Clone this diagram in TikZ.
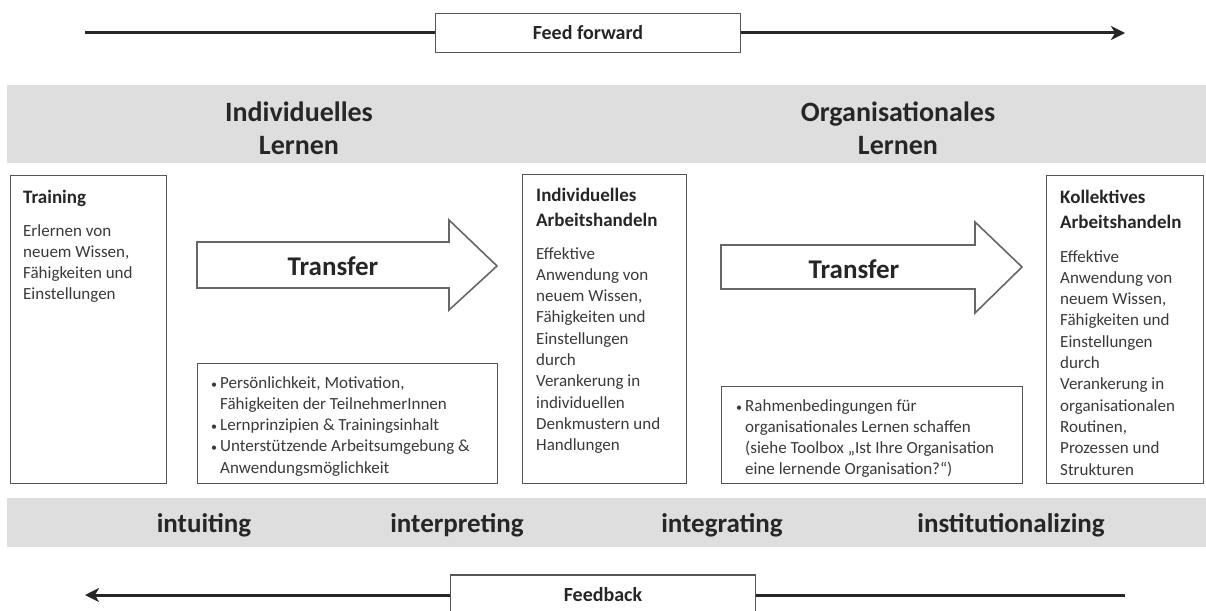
\documentclass[tikz,border=0pt]{standalone}
\usepackage{fontspec}
\setmainfont{Carlito}
\usetikzlibrary{arrows.meta}

\definecolor{bandgray}{HTML}{DEDEDE}
\definecolor{boxline}{HTML}{555555}
\definecolor{bodytext}{HTML}{3A3A3A}

\newcommand{\blt}{\makebox[9pt][l]{\fontsize{12}{12}\selectfont•}}
\newcommand{\hng}{\hspace*{9pt}}

\begin{document}
\begin{tikzpicture}[x=1pt,y=-1pt,
  panel/.style={draw=boxline,line width=1.4pt,fill=white,anchor=north west,inner sep=0pt},
  labelbox/.style={draw=boxline,line width=1.2pt,fill=white,font=\fontsize{20}{24}\selectfont\bfseries,text=black!85},
  heading/.style={font=\fontsize{28}{33}\selectfont\bfseries,text=black!85,align=center},
  boxtitle/.style={font=\fontsize{19}{25}\selectfont\bfseries,text=black!85,align=left,anchor=north west,inner sep=0pt},
  boxtext/.style={font=\fontsize{17}{21.3}\selectfont,text=bodytext,align=left,anchor=north west,inner sep=0pt},
  stage/.style={font=\fontsize{27}{30}\selectfont\bfseries,text=black!85},
  flow/.style={line width=3pt,black!85},
  transfer/.style={draw=gray!80!black,line width=1.6pt,fill=white,line join=miter}]
\useasboundingbox (0,0) rectangle (1206,610);

\fill [bandgray] (7,85) rectangle (1206,163);
\fill [bandgray] (7,498) rectangle (1206,547);

\node [heading] (indiv) at (299,128) {Individuelles\\Lernen};
\node [heading] (orga) at (898,128) {Organisationales\\Lernen};

\node [labelbox,minimum width=305pt,minimum height=39pt] (ff) at (588,33) {Feed forward};
\coordinate (ffstart) at (85,33);
\coordinate (ffend) at (1125,33);
\draw [flow] (ffstart) -- (ff.west);
\draw [flow,-{Stealth[length=14pt,width=14pt,inset=4pt]}] (ff.east) -- (ffend);

\node [panel,minimum width=156pt,minimum height=308pt] (training) at (10,175) {};
\node [boxtitle] (trainingtitle) at (23,190) {Training};
\node [boxtext] (trainingtext) at (23,224) {Erlernen von\\neuem Wissen,\\Fähigkeiten und\\Einstellungen};

\node [panel,minimum width=164pt,minimum height=309pt] (indact) at (522,174) {};
\node [boxtitle] (indacttitle) at (536,188) {Individuelles\\Arbeitshandeln};
\node [boxtext] (indacttext) at (536,247) {Effektive\\Anwendung von\\neuem Wissen,\\Fähigkeiten und\\Einstellungen\\durch\\Verankerung in\\individuellen\\Denkmustern und\\Handlungen};

\node [panel,minimum width=157pt,minimum height=308pt] (colact) at (1046,175) {};
\node [boxtitle] (colacttitle) at (1060,190) {Kollektives\\Arbeitshandeln};
\node [boxtext] (colacttext) at (1060,250) {Effektive\\Anwendung von\\neuem Wissen,\\Fähigkeiten und\\Einstellungen\\durch\\Verankerung in\\organisationalen\\Routinen,\\Prozessen und\\Strukturen};

\draw [transfer] (197,242) -- (449,242) -- (449,220) -- (497,266) -- (449,310) -- (449,288) -- (197,288) -- cycle;
\node [font=\fontsize{27}{30}\selectfont\bfseries,text=black!85] (transfer1) at (333,266) {Transfer};
\draw [transfer] (721,245) -- (975,245) -- (975,222) -- (1022,267) -- (975,313) -- (975,289) -- (721,289) -- cycle;
\node [font=\fontsize{27}{30}\selectfont\bfseries,text=black!85] (transfer2) at (854,269) {Transfer};

\node [panel,minimum width=300pt,minimum height=120pt] (factors) at (197,363) {};
\node [boxtext] (factorstext) at (211,376) {\blt Persönlichkeit, Motivation,\\\hng Fähigkeiten der TeilnehmerInnen\\\blt Lernprinzipien \& Trainingsinhalt\\\blt Unterstützende Arbeitsumgebung \&\\\hng Anwendungsmöglichkeit};

\node [panel,minimum width=301pt,minimum height=97pt] (conditions) at (721,386) {};
\node [boxtext] (conditionstext) at (736,399) {\blt Rahmenbedingungen für\\\hng organisationales Lernen schaffen\\\hng (siehe Toolbox „Ist Ihre Organisation\\\hng eine lernende Organisation?“)};

\node [stage] (intuiting) at (204,525) {intuiting};
\node [stage] (interpreting) at (457,525) {interpreting};
\node [stage] (integrating) at (722,525) {integrating};
\node [stage] (institutionalizing) at (1011,525) {institutionalizing};

\node [labelbox,minimum width=305pt,minimum height=40pt] (fb) at (603,595) {Feedback};
\coordinate (fbstart) at (1125,595);
\coordinate (fbend) at (85,595);
\draw [flow] (fbstart) -- (fb.east);
\draw [flow,-{Stealth[length=14pt,width=14pt,inset=4pt]}] (fb.west) -- (fbend);
\end{tikzpicture}
\end{document}
